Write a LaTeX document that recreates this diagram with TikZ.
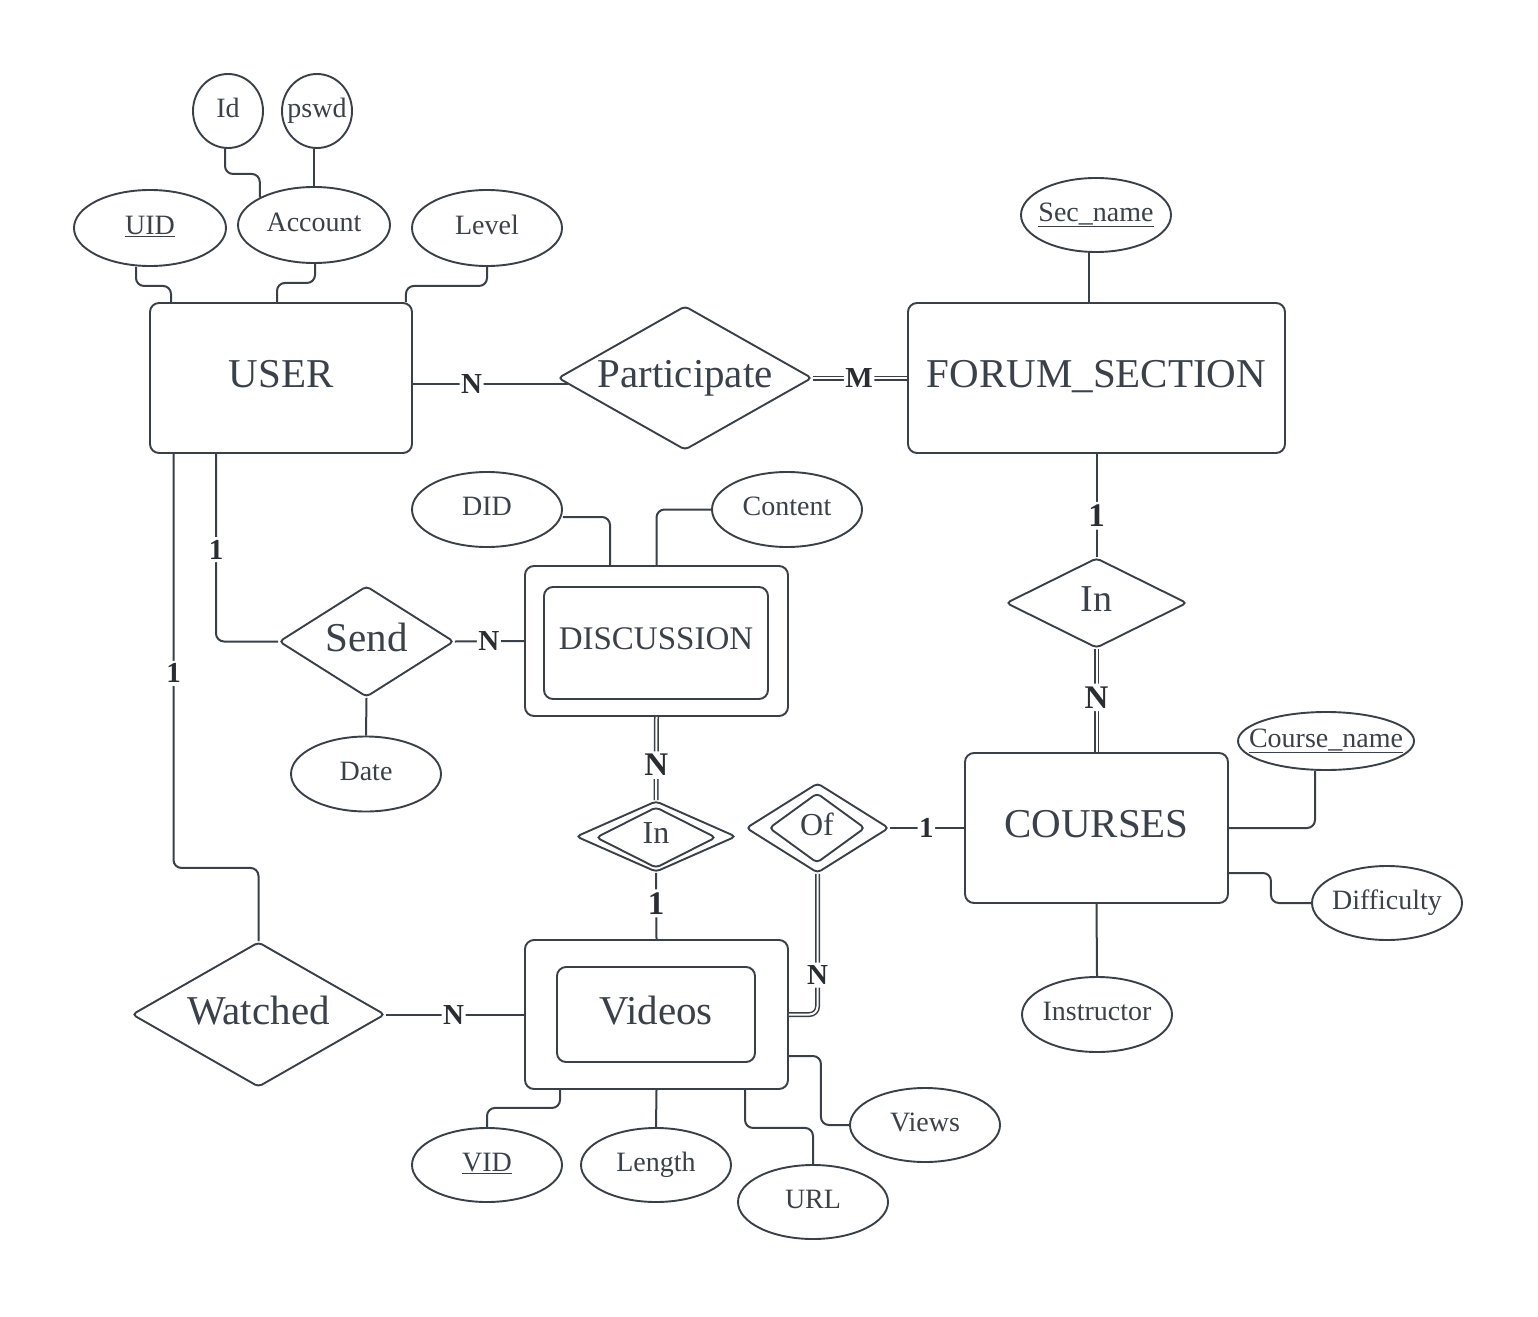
\documentclass[tikz,border=0pt]{standalone}
\usepackage{fontspec}
\setmainfont{Liberation Serif}
\usetikzlibrary{shapes.geometric,calc}
\definecolor{ln}{HTML}{3A4048}
\definecolor{tx}{HTML}{3A414A}
\definecolor{lb}{HTML}{2A2D31}
\begin{document}
\begin{tikzpicture}[x=1pt,y=-1pt,
  every node/.style={text=tx},
  attr/.style={ellipse,draw=ln,line width=1.9pt,inner sep=0pt,text depth=6pt,font=\fontsize{28}{32}\selectfont},
  ent/.style={rectangle,draw=ln,line width=1.9pt,rounded corners=9pt,inner sep=0pt,text depth=8pt,font=\fontsize{41}{48}\selectfont},
  rel/.style={diamond,draw=ln,line width=1.9pt,rounded corners=4pt,inner sep=0pt,text depth=8pt,font=\fontsize{41}{48}\selectfont},
  conn/.style={draw=ln,line width=2pt,rounded corners=8pt},
  dbl/.style={draw=ln,line width=1.5pt,double=white,double distance=2pt,rounded corners=8pt},
  lab/.style={fill=white,inner xsep=1.5pt,inner ysep=3pt,text=lb,font=\bfseries\fontsize{29}{32}\selectfont},
  biglab/.style={lab,font=\bfseries\fontsize{33}{36}\selectfont},
]
\useasboundingbox[fill=white] (0,0) rectangle (1538,1316);

% entities
\node[ent, minimum width=262, minimum height=150] (user) at (281,378) {USER};
\node[ent, minimum width=377, minimum height=150] (forum) at (1096.5,378) {FORUM\_SECTION};
\node[ent, minimum width=263, minimum height=150] (courses) at (1096.5,828) {COURSES};
\node[ent, minimum width=263, minimum height=150] (disc) at (656.5,641) {};
\node[ent, minimum width=224, minimum height=112, font=\fontsize{33}{38}\selectfont] (discin) at (656,643) {DISCUSSION};
\node[ent, minimum width=263, minimum height=149] (vids) at (656.5,1014.5) {};
\node[ent, minimum width=198, minimum height=95] (vidsin) at (656,1014.5) {Videos};

% relationships
\node[rel, minimum width=254, minimum height=144] (part) at (685,378) {\makebox[0pt]{Participate}};
\node[rel, minimum width=175, minimum height=111] (send) at (366.5,641.5) {\makebox[0pt]{Send}};
\node[rel, minimum width=253, minimum height=145] (watched) at (258.5,1014.5) {\makebox[0pt]{Watched}};
\node[rel, minimum width=181, minimum height=90, font=\fontsize{38}{44}\selectfont] (intop) at (1096.5,603) {\makebox[0pt]{In}};
\node[rel, minimum width=160, minimum height=71] (inlow) at (656,836.5) {};
\node[rel, minimum width=120, minimum height=61, font=\fontsize{32}{38}\selectfont] (inlowin) at (656,837.5) {\makebox[0pt]{In}};
\node[rel, minimum width=143, minimum height=90] (of) at (817.5,828) {};
\node[rel, minimum width=96, minimum height=70, font=\fontsize{32}{38}\selectfont] (ofin) at (817,828) {\makebox[0pt]{Of}};

% attributes
\node[attr, minimum width=70, minimum height=74] (id) at (228,111) {\makebox[0pt]{Id}};
\node[attr, minimum width=70, minimum height=74] (pswd) at (317,111) {\makebox[0pt]{pswd}};
\node[attr, minimum width=152, minimum height=76] (uid) at (150,228) {\makebox[0pt]{\underline{UID}}};
\node[attr, minimum width=152, minimum height=76] (account) at (314,225) {\makebox[0pt]{Account}};
\node[attr, minimum width=150, minimum height=76] (level) at (487,228) {\makebox[0pt]{Level}};
\node[attr, minimum width=150, minimum height=74] (secname) at (1096,215) {\makebox[0pt]{\underline{Sec\_name}}};
\node[attr, minimum width=150, minimum height=75] (did) at (487,509.5) {\makebox[0pt]{DID}};
\node[attr, minimum width=150, minimum height=75] (content) at (787,509.5) {\makebox[0pt]{Content}};
\node[attr, minimum width=150, minimum height=75] (date) at (366,774) {\makebox[0pt]{Date}};
\node[attr, minimum width=176, minimum height=58] (coursename) at (1326,741) {\makebox[0pt]{\underline{Course\_name}}};
\node[attr, minimum width=150, minimum height=74] (difficulty) at (1387,903) {\makebox[0pt]{Difficulty}};
\node[attr, minimum width=150, minimum height=75] (instructor) at (1097,1014.5) {\makebox[0pt]{Instructor}};
\node[attr, minimum width=150, minimum height=74] (vid) at (487,1165) {\makebox[0pt]{\underline{VID}}};
\node[attr, minimum width=150, minimum height=74] (length) at (656,1165) {\makebox[0pt]{Length}};
\node[attr, minimum width=150, minimum height=74] (url) at (813,1202) {\makebox[0pt]{URL}};
\node[attr, minimum width=150, minimum height=74] (views) at (925,1125) {\makebox[0pt]{Views}};

% attribute connectors
\draw[conn] ([xshift=-14pt]uid.south) -- ++(0,19) -| ([xshift=-110pt]user.north);
\draw[conn] ([xshift=1pt]account.south) -- ++(0,19) -| ([xshift=-4pt]user.north);
\draw[conn] (level.south) -- ++(0,19) -| ([xshift=-7pt]user.north east);
\draw[conn] ([xshift=-3pt]id.south) -- ++(0,25) -| (account.153);
\draw[conn] (account.north) -- (account.north |- pswd.south);
\draw[conn] ([xshift=-7pt]secname.south) -- ([xshift=-7pt]secname.south |- forum.north);
\draw[conn] ([yshift=-7.5pt]did.east) -| ([xshift=-46.5pt]disc.north);
\draw[conn] (content.west) -| (disc.north);
\draw[conn] (send.south) -- (date.north);
\draw[conn] (courses.east) -| ([xshift=-11pt]coursename.south);
\draw[conn] ([yshift=-45pt]courses.east) -- ++(42,0) |- (difficulty.west);
\draw[conn] (courses.south) -- (instructor.north);
\draw[conn] ([xshift=-96.5pt]vids.south) -- ++(0,18) -| (vid.north);
\draw[conn] (vids.south) -- (length.north);
\draw[conn] ([xshift=88.5pt]vids.south) -- ++(0,38) -| (url.north);
\draw[conn] ([yshift=-41.5pt]vids.east) -- ++(32,0) |- (views.west);

% relationship connectors
\draw[conn] ([yshift=-6pt]user.east) -- node[lab,pos=0.38]{N} ([xshift=10.5pt,yshift=-6pt]part.west);
\draw[dbl] (part.east) -- node[lab,pos=0.49]{M} (forum.west);
\draw[conn] (forum.south) -- node[biglab,pos=0.6]{1} (intop.north);
\draw[dbl] (intop.south) -- node[biglab,pos=0.47]{N} (courses.north);
\draw[conn] (of.east) -- node[lab,pos=0.49]{1} (courses.west);
\draw[dbl] (of.south) -- node[lab,pos=0.72]{N} (of.south |- vids.east) -- (vids.east);
\draw[dbl] (disc.south) -- node[biglab,pos=0.58]{N} (inlow.north);
\draw[conn] (inlow.south) -- node[biglab,pos=0.46]{1} (vids.north);
\draw[conn] ([xshift=-65pt]user.south) -- node[lab,pos=0.51]{1} ([xshift=-65pt]user.south |- send.west) -- (send.west);
\draw[conn] (send.east) -- node[lab,pos=0.49]{N} (disc.west);
\draw[conn] ([xshift=-107.5pt]user.south) -- node[lab,pos=0.53]{1} ++(0,414) -| (watched.north);
\draw[conn] (watched.east) -- node[lab,pos=0.49]{N} (vids.west);
\end{tikzpicture}
\end{document}
